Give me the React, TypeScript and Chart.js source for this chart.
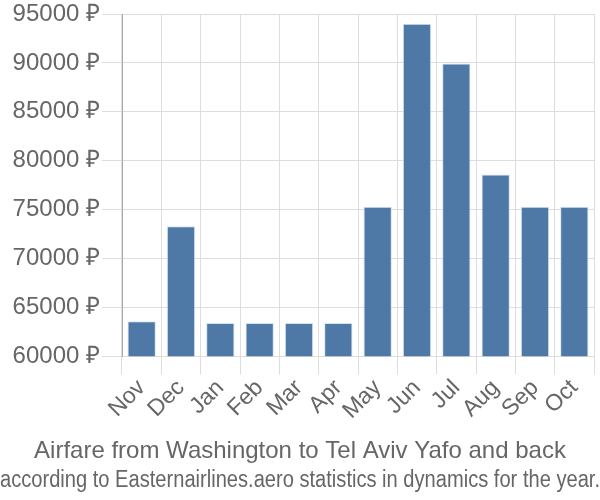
import React, { useEffect, useRef } from "react";
import { Chart, registerables } from "chart.js";

Chart.register(...registerables);

const months = ["Nov", "Dec", "Jan", "Feb", "Mar", "Apr", "May", "Jun", "Jul", "Aug", "Sep", "Oct"];
const prices = [63600, 73300, 63400, 63400, 63400, 63400, 75300, 94000, 89950, 78600, 75300, 75300];
const titleText = "Airfare from Washington to Tel Aviv Yafo and back";
const subtitleText = "according to Easternairlines.aero statistics in dynamics for the year.";
const yMin = 60000;
const yMax = 95000;
const yStep = 5000;

export default function App() {
  const ref = useRef<HTMLCanvasElement | null>(null);
  useEffect(() => {
    document.body.style.margin = "0";
    const canvas = ref.current;
    if (!canvas) return;
    const font = "'Liberation Sans', Arial, sans-serif";
    const chart = new Chart(canvas, {
      type: "bar",
      data: {
        labels: months,
        datasets: [
          {
            data: prices,
            backgroundColor: "#4e79a7",
            borderColor: "rgba(200,220,240,0.8)",
            borderWidth: 1,
          },
        ],
      },
      options: {
        animation: false,
        responsive: false,
        layout: { padding: { top: 0, right: 0, left: 0, bottom: 4 } },
        plugins: {
          legend: { display: false },
          tooltip: { enabled: false },
          title: {
            display: true,
            text: titleText,
            position: "bottom",
            color: "#666",
            font: { family: font, size: 24, weight: "normal" },
            padding: { top: 12, bottom: 0 },
            weight: 1500,
          } as any,
          subtitle: {
            display: true,
            text: subtitleText,
            position: "bottom",
            color: "#666",
            font: { family: font, size: 23, weight: "normal" },
            padding: { top: 1, bottom: 2 },
            weight: 2000,
          } as any,
        },
        scales: {
          x: {
            grid: { color: "#dddddd", tickLength: 18, drawTicks: true },
            border: { color: "#dddddd" },
            ticks: {
              color: "#666",
              font: { family: font, size: 23 },
              maxRotation: 45,
              minRotation: 45,
              autoSkip: false,
              padding: 0,
            },
            afterFit: (scale: any) => {
              scale.paddingRight = 6;
            },
          },
          y: {
            min: yMin,
            max: yMax,
            grid: { color: "#dddddd", tickLength: 20 },
            border: { color: "#aaaaaa" },
            ticks: {
              stepSize: yStep,
              color: "#666",
              font: { family: font, size: 24 },
              padding: 2,
              callback: (v: any) => `${v} ₽`,
            },
            afterFit: (scale: any) => {
              scale.width = 122;
              scale.paddingTop = 14;
            },
          },
        },
      },
    });
    return () => chart.destroy();
  }, []);
  return <canvas ref={ref} width={600} height={500} style={{ display: "block" }} />;
}
